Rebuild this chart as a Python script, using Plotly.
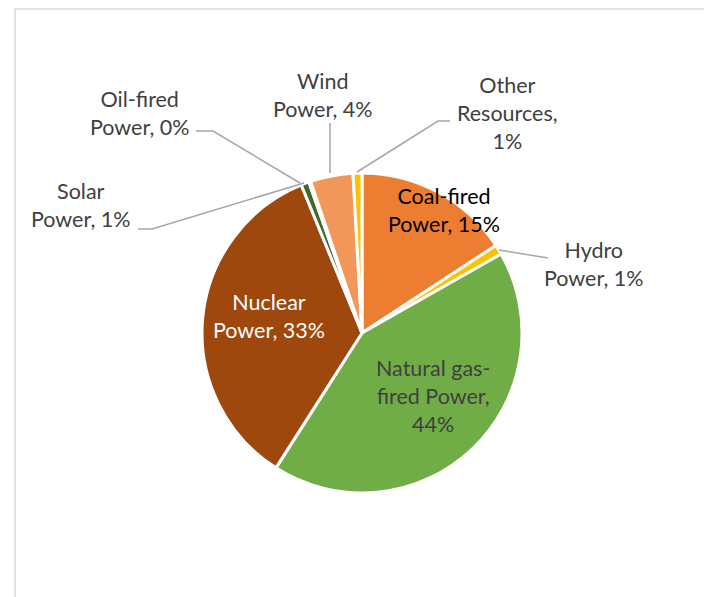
import plotly.graph_objects as go

# ---- data ----
categories = ["Coal-fired Power", "Hydro Power", "Natural gas-fired Power", "Nuclear Power",
              "Solar Power", "Oil-fired Power", "Wind Power", "Other Resources"]
shares = [15.8, 1.0, 42.3, 34.8, 0.8, 0.2, 4.3, 0.9]
pct_labels = ["15%", "1%", "44%", "33%", "1%", "0%", "4%", "1%"]
label_text = ["Coal-fired<br>Power, 15%", "Hydro<br>Power, 1%", "Natural gas-<br>fired Power,<br>44%",
              "Nuclear<br>Power, 33%", "Solar<br>Power, 1%", "Oil-fired<br>Power, 0%",
              "Wind<br>Power, 4%", "Other<br>Resources,<br>1%"]
colors = ["#ED7D31", "#FFC000", "#70AD47", "#9E480E", "#43682B", "#7F6000", "#F1975A", "#FFC000"]

# page body has an 8px margin, so the figure is drawn 8px in from the window
OFF = 8
W, H = 712 - OFF, 597 - OFF

def px(x, y):
    return (x - OFF) / W, 1 - (y - OFF) / H

# label layout (window pixel centres), text colours
label_pos = [(444, 210), (594, 264), (433, 396), (269, 316), (81, 205), (140, 113), (323, 95), (507, 113)]
label_col = ["#000000", "#404040", "#404040", "#FFFFFF", "#404040", "#404040", "#404040", "#404040"]
leaders = {
    1: [(499, 250), (548, 258)],
    7: [(357, 172), (438, 121), (450, 121)],
    6: [(330, 173), (330, 123)],
    5: [(300, 183), (213, 131), (196, 131)],
    4: [(304, 183), (152, 229), (138, 229)],
}

cx, cy, r = 362, 333, 160
x0, _ = px(cx - r, 0)
x1, _ = px(cx + r, 0)
_, y1 = px(0, cy - r)
_, y0 = px(0, cy + r)

fig = go.Figure(go.Pie(
    labels=categories, values=shares, sort=False, direction="clockwise", rotation=0,
    marker=dict(colors=colors, line=dict(color="white", width=3)),
    textinfo="none", hoverinfo="label+percent", showlegend=False,
    domain=dict(x=[x0, x1], y=[y0, y1]),
))

annotations = []
for i, t in enumerate(label_text):
    ax, ay = px(*label_pos[i])
    annotations.append(dict(x=ax, y=ay, xref="paper", yref="paper", text=t, showarrow=False,
                            font=dict(family="Lato", size=21.5, color=label_col[i]),
                            align="center", xanchor="center", yanchor="middle"))

shapes = []
for i, pts in leaders.items():
    path = "M " + " L ".join(f"{px(x, y)[0]},{px(x, y)[1]}" for x, y in pts)
    shapes.append(dict(type="path", path=path, xref="paper", yref="paper",
                       line=dict(color="#A6A6A6", width=1.5)))
bx0, by0 = px(15, 9)
bx1, by1 = px(708, 610)
shapes.append(dict(type="rect", xref="paper", yref="paper", x0=bx0, y0=by1, x1=bx1, y1=by0,
                   line=dict(color="#D9D9D9", width=1.5)))

fig.update_layout(width=W, height=H, margin=dict(l=0, r=0, t=0, b=0),
                  paper_bgcolor="white", plot_bgcolor="white",
                  annotations=annotations, shapes=shapes)
fig.write_html("out.html")
